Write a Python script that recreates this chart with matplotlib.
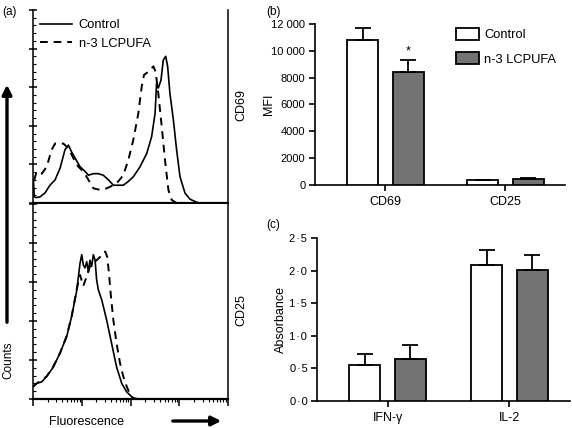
import numpy as np
import matplotlib
matplotlib.use("Agg")
import matplotlib.pyplot as plt
from matplotlib.ticker import FixedLocator, NullFormatter, LogLocator

plt.rcParams['font.family'] = ['Liberation Sans', 'DejaVu Sans']

# flow cytometry histograms, x in channels (256 per decade), y in counts
cd69_ctrl_ch = [2, 7, 16, 37, 63, 89, 116, 142, 168, 186, 203, 226, 247, 273, 291, 317, 343, 369,
                396, 422, 448, 474, 501, 527, 562, 597, 623, 641, 649, 658, 672, 684, 697, 707,
                719, 737, 754, 772, 798, 824, 859, 877]
cd69_ctrl_n = [30, 8, 7, 8, 13, 23, 30, 45, 69, 75, 66, 56, 47, 41, 36, 38, 38, 36,
               30, 23, 23, 23, 28, 34, 47, 64, 86, 116, 155, 149, 159, 185, 190, 177,
               142, 108, 69, 34, 13, 5, 1, 0]
cd69_n3_ch = [7, 19, 46, 72, 98, 116, 159, 186, 212, 238, 264, 291, 317, 352, 387, 422, 448,
              474, 501, 527, 553, 571, 583, 606, 632, 644, 658, 676, 693, 711, 728, 754]
cd69_n3_n = [30, 41, 38, 47, 69, 77, 77, 71, 58, 47, 41, 30, 19, 17, 19, 23, 28,
             36, 56, 82, 116, 151, 166, 170, 177, 170, 142, 99, 56, 17, 4, 0]

cd25_ctrl_ch = [2, 19, 46, 72, 107, 142, 177, 203, 229, 247, 256, 264, 273, 282, 291, 299, 308,
                317, 326, 334, 343, 361, 387, 413, 439, 466, 492, 527, 562]
cd25_ctrl_n = [16, 20, 22, 29, 41, 59, 80, 106, 138, 174, 185, 172, 168, 176, 163, 178, 170,
               185, 178, 153, 140, 127, 101, 71, 41, 20, 9, 1, 0]
cd25_n3_ch = [2, 19, 46, 72, 107, 142, 177, 203, 229, 247, 264, 282, 299, 317, 334, 352, 369,
              380, 390, 399, 408, 422, 439, 457, 474, 492, 509, 527, 544]
cd25_n3_n = [16, 20, 24, 29, 42, 59, 81, 106, 140, 159, 145, 157, 170, 174, 178, 182, 188,
             189, 182, 161, 135, 101, 71, 46, 29, 16, 6, 1, 0]

# bar data
mfi_groups = ['CD69', 'CD25']
mfi_ctrl = [10800, 400]
mfi_ctrl_err = [900, 0]
mfi_n3 = [8450, 450]
mfi_n3_err = [900, 90]
mfi_ticks = [0, 2000, 4000, 6000, 8000, 10000, 12000]
mfi_ticklabels = ['0', '2000', '4000', '6000', '8000', '10 000', '12 000']

abs_groups = ['IFN-γ', 'IL-2']
abs_ctrl = [0.55, 2.09]
abs_ctrl_err = [0.17, 0.23]
abs_n3 = [0.65, 2.01]
abs_n3_err = [0.21, 0.23]
abs_ticks = [0, 0.5, 1.0, 1.5, 2.0, 2.5]
abs_ticklabels = ['0\u200a·\u200a0', '0\u200a·\u200a5', '1\u200a·\u200a0',
                  '1\u200a·\u200a5', '2\u200a·\u200a0', '2\u200a·\u200a5']

W, H = 572, 428
fig = plt.figure(figsize=(W / 100, H / 100), dpi=100)


def fax(left, top, right, bottom):
    return fig.add_axes([left / W, 1 - bottom / H, (right - left) / W, (bottom - top) / H])


def ch2fl(ch):
    return 10 ** (np.array(ch) / 256.0)


def hist_axes(ax, bottom_ticks):
    ax.set_xscale('log')
    ax.set_xlim(1, 1e4)
    ax.set_ylim(0, 250)
    ax.spines['top'].set_visible(False)
    for s in ax.spines.values():
        s.set_linewidth(1.1)
    ax.spines['bottom'].set_linewidth(1.6)
    ax.yaxis.set_major_locator(FixedLocator([0, 50, 100, 150, 200, 250]))
    ax.yaxis.set_minor_locator(FixedLocator(np.arange(0, 251, 10)))
    ax.yaxis.set_major_formatter(NullFormatter())
    ax.tick_params(axis='y', which='major', direction='inout', length=6, width=1.1)
    ax.tick_params(axis='y', which='minor', direction='in', length=2, width=0.8)
    if bottom_ticks:
        ax.xaxis.set_major_locator(LogLocator(base=10, numticks=10))
        ax.xaxis.set_minor_locator(LogLocator(base=10, subs=np.arange(2, 10), numticks=10))
        ax.xaxis.set_major_formatter(NullFormatter())
        ax.xaxis.set_minor_formatter(NullFormatter())
        ax.tick_params(axis='x', which='major', direction='out', length=5, width=1.1)
        ax.tick_params(axis='x', which='minor', direction='out', length=2.5, width=0.8)
    else:
        ax.set_xticks([])
        ax.xaxis.set_minor_locator(FixedLocator([]))


# (a) top: CD69
ax1 = fax(33, 10, 228, 203)
ax1.plot(ch2fl(cd69_ctrl_ch), cd69_ctrl_n, color='black', lw=1.2, label='Control')
ax1.plot(ch2fl(cd69_n3_ch), cd69_n3_n, color='black', lw=1.4, ls=(0, (4, 3)), label='n-3 LCPUFA')
hist_axes(ax1, False)
ax1.legend(loc='upper left', bbox_to_anchor=(7 / 195, 1 - 9 / 193), frameon=False, fontsize=9.3,
           handlelength=2.5, handletextpad=0.5, labelspacing=0.5, borderaxespad=0, borderpad=0)

# (a) bottom: CD25
ax2 = fax(33, 204, 228, 399)
ax2.plot(ch2fl(cd25_ctrl_ch), cd25_ctrl_n, color='black', lw=1.2)
ax2.plot(ch2fl(cd25_n3_ch), cd25_n3_n, color='black', lw=1.4, ls=(0, (4, 3)))
hist_axes(ax2, True)

fig.text(241 / W, 1 - 105 / H, 'CD69', rotation=90, ha='center', va='center', fontsize=9)
fig.text(241 / W, 1 - 310 / H, 'CD25', rotation=90, ha='center', va='center', fontsize=9)
fig.text(2 / W, 1 - 12 / H, '(a)', ha='left', va='center', fontsize=8.5)
fig.text(8 / W, 1 - 360 / H, 'Counts', rotation=90, ha='center', va='center', fontsize=8.5)
fig.text(87 / W, 1 - 422 / H, 'Fluorescence', ha='center', va='center', fontsize=9)
fig.add_artist(matplotlib.patches.FancyArrowPatch((7 / W, 1 - 325 / H), (7 / W, 1 - 82 / H),
               transform=fig.transFigure, arrowstyle='-|>', mutation_scale=14, lw=2.4, color='black'))
fig.add_artist(matplotlib.patches.FancyArrowPatch((170 / W, 1 - 421 / H), (224 / W, 1 - 421 / H),
               transform=fig.transFigure, arrowstyle='-|>', mutation_scale=14, lw=2.4, color='black'))

GRAY = '#737373'


def bar_axes(ax, ticks, ticklabels, groups, ylim):
    ax.spines['top'].set_visible(False)
    ax.spines['right'].set_visible(False)
    ax.spines['left'].set_linewidth(1.2)
    ax.spines['bottom'].set_linewidth(1.2)
    ax.set_ylim(*ylim)
    ax.set_yticks(ticks)
    ax.set_yticklabels(ticklabels)
    ax.set_xticks(range(len(groups)))
    ax.set_xticklabels(groups)
    ax.tick_params(axis='both', direction='out', length=4, width=1.2, pad=3)
    ax.tick_params(axis='y', labelsize=8)
    ax.tick_params(axis='x', labelsize=9, pad=4)


def draw_bars(ax, ctrl, ctrl_err, n3, n3_err, off, width):
    x = np.arange(len(ctrl))
    ekw = dict(elinewidth=1.3, capthick=1.3)
    b1 = ax.bar(x - off, ctrl, width, color='white', edgecolor='black', lw=1.3,
                yerr=[np.zeros(len(ctrl)), ctrl_err], capsize=5.5, error_kw=ekw, label='Control', zorder=3)
    b2 = ax.bar(x + off, n3, width, color=GRAY, edgecolor='black', lw=1.3,
                yerr=[np.zeros(len(n3)), n3_err], capsize=5.5, error_kw=ekw, label='n-3 LCPUFA', zorder=3)
    return b1, b2


# (b) MFI
axb = fax(315, 24, 565, 185)
b1, b2 = draw_bars(axb, mfi_ctrl, mfi_ctrl_err, mfi_n3, mfi_n3_err, 0.19, 0.255)
bar_axes(axb, mfi_ticks, mfi_ticklabels, mfi_groups, (0, 12000))
axb.set_xlim(-0.5875, 1.496)
axb.set_ylabel('MFI', fontsize=9)
axb.yaxis.set_label_coords((275 - 315) / 250, 0.5)
axb.text(0.19, mfi_n3[0] + mfi_n3_err[0] + 150, '*', ha='center', va='bottom', fontsize=9)
axb.legend(handles=[b1, b2], loc='upper left', bbox_to_anchor=(456 / W, 1 - 28 / H),
           bbox_transform=fig.transFigure, frameon=False, fontsize=9.3,
           handlelength=1.8, handleheight=1.05, handletextpad=0.4, labelspacing=0.85,
           borderaxespad=0, borderpad=0)
fig.text(266 / W, 1 - 12 / H, '(b)', ha='left', va='center', fontsize=8.5)

# (c) Absorbance
axc = fax(317, 238, 570, 401)
draw_bars(axc, abs_ctrl, abs_ctrl_err, abs_n3, abs_n3_err, 0.185, 0.255)
bar_axes(axc, abs_ticks, abs_ticklabels, abs_groups, (0, 2.5))
axc.set_xlim(-0.578, 1.496)
axc.set_ylabel('Absorbance', fontsize=9)
axc.yaxis.set_label_coords((287 - 317) / 253, 0.5)
fig.text(266 / W, 1 - 225 / H, '(c)', ha='left', va='center', fontsize=8.5)

fig.savefig('out.png', dpi=100)
